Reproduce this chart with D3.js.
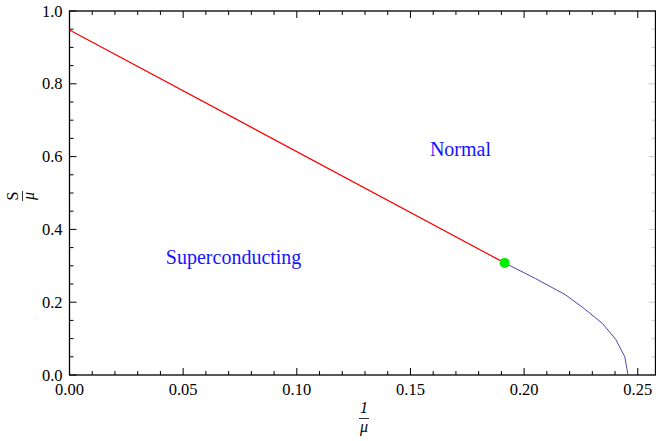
<!DOCTYPE html>
<html>
  <head>
    <style>
      body { margin: 0; background: #fff; }
    </style>
  </head>
  <body>
    <script src="https://d3js.org/d3.v7.min.js"></script>
    <script>
      var width = 656;
      var height = 441;
      var serif = "Liberation Serif";

      // data
      var redLineX = [0.0, 0.1914];
      var redLineY = [0.948, 0.308];
      var blueCurveX = [0.1914, 0.205, 0.2183, 0.2263, 0.2344, 0.2403, 0.2443, 0.2457];
      var blueCurveY = [0.308, 0.265, 0.220, 0.183, 0.142, 0.098, 0.050, 0.0];
      var tripleX = 0.1914;
      var tripleY = 0.308;
      var xTicks = [0.00, 0.05, 0.10, 0.15, 0.20, 0.25];
      var yTicks = [0.0, 0.2, 0.4, 0.6, 0.8, 1.0];
      var regionLabels = ["Normal", "Superconducting"];
      var regionX = [0.172, 0.0722];
      var regionY = [0.602, 0.305];

      var margin = { left: 69.5, right: 0.5, top: 11, bottom: 66 };

      var svg = d3.select("body")
        .append("svg")
        .attr("width", width)
        .attr("height", height);

      var x = d3.scaleLinear()
        .domain([0, 0.2578])
        .range([margin.left, width - margin.right]);

      var y = d3.scaleLinear()
        .domain([0, 1])
        .range([height - margin.bottom, margin.top]);

      var x0 = x.range()[0], x1 = x.range()[1];
      var y0 = y.range()[0], y1 = y.range()[1];

      // minor ticks
      var xMinor = d3.range(0, 0.2578, 0.01);
      var yMinor = d3.range(0, 1.0001, 0.05);

      var ticks = svg.append("g")
        .attr("stroke", "black")
        .attr("stroke-width", 1);

      xMinor.forEach(function(v) {
        var major = Math.abs(v / 0.05 - Math.round(v / 0.05)) < 1e-6;
        var len = major ? 7 : 4;
        ticks.append("line")
          .attr("x1", x(v)).attr("x2", x(v))
          .attr("y1", y0).attr("y2", y0 - len);
        ticks.append("line")
          .attr("x1", x(v)).attr("x2", x(v))
          .attr("y1", y1).attr("y2", y1 + len);
      });

      yMinor.forEach(function(v) {
        var major = Math.abs(v / 0.2 - Math.round(v / 0.2)) < 1e-6;
        var len = major ? 7 : 4;
        ticks.append("line")
          .attr("x1", x0).attr("x2", x0 + len)
          .attr("y1", y(v)).attr("y2", y(v));
        ticks.append("line")
          .attr("x1", x1).attr("x2", x1 - len)
          .attr("y1", y(v)).attr("y2", y(v))
          .attr("stroke", "#ccc");
      });

      // frame
      svg.append("rect")
        .attr("x", x0)
        .attr("y", y1)
        .attr("width", x1 - x0)
        .attr("height", y0 - y1)
        .attr("fill", "none")
        .attr("stroke", "black")
        .attr("stroke-width", 1.3);

      // tick labels
      svg.append("g").selectAll("text")
        .data(xTicks)
        .enter().append("text")
        .attr("font-family", serif)
        .attr("font-size", 16.5)
        .attr("x", function(d) { return x(d); })
        .attr("y", y0 + 20)
        .attr("text-anchor", "middle")
        .text(function(d) { return d.toFixed(2); });

      svg.append("g").selectAll("text")
        .data(yTicks)
        .enter().append("text")
        .attr("font-family", serif)
        .attr("font-size", 16.5)
        .attr("x", x0 - 7)
        .attr("y", function(d) { return y(d) + 5.5; })
        .attr("text-anchor", "end")
        .text(function(d) { return d.toFixed(1); });

      // lines
      var line = d3.line()
        .x(function(d) { return x(d[0]); })
        .y(function(d) { return y(d[1]); });

      svg.append("path")
        .datum(blueCurveX.map(function(v, i) { return [v, blueCurveY[i]]; }))
        .attr("d", line)
        .attr("fill", "none")
        .attr("stroke", "#4848b0")
        .attr("stroke-width", 1);

      svg.append("path")
        .datum(redLineX.map(function(v, i) { return [v, redLineY[i]]; }))
        .attr("d", line)
        .attr("fill", "none")
        .attr("stroke", "#ff0000")
        .attr("stroke-width", 1.2);

      svg.append("circle")
        .attr("cx", x(tripleX))
        .attr("cy", y(tripleY))
        .attr("r", 5)
        .attr("fill", "#00ee00");

      // region labels
      svg.append("g").selectAll("text")
        .data(regionLabels)
        .enter().append("text")
        .attr("font-family", serif)
        .attr("font-size", 20)
        .attr("fill", "#1414ff")
        .attr("x", function(d, i) { return x(regionX[i]); })
        .attr("y", function(d, i) { return y(regionY[i]); })
        .attr("text-anchor", "middle")
        .text(function(d) { return d; });

      // x axis title: 1 over mu
      var xt = svg.append("g").attr("transform", "translate(364,0)")
        .attr("font-family", serif).attr("font-size", 16).attr("font-style", "italic");
      xt.append("text")
        .attr("x", 0).attr("y", 413).attr("text-anchor", "middle").text("1");
      xt.append("line").attr("x1", -5).attr("x2", 5).attr("y1", 418.5).attr("y2", 418.5)
        .attr("stroke", "black").attr("stroke-width", 0.8);
      xt.append("text")
        .attr("x", 0).attr("y", 432).attr("text-anchor", "middle").text("μ");

      // y axis title: S over mu, rotated
      var yt = svg.append("g").attr("transform", "translate(22,196) rotate(-90)")
        .attr("font-family", serif).attr("font-size", 16);
      yt.append("text")
        .attr("x", 0).attr("y", -4).attr("text-anchor", "middle").text("S");
      yt.append("line").attr("x1", -5).attr("x2", 5).attr("y1", 0.5).attr("y2", 0.5)
        .attr("stroke", "black").attr("stroke-width", 0.8);
      yt.append("text").attr("font-style", "italic")
        .attr("x", 0).attr("y", 12).attr("text-anchor", "middle").text("μ");
    </script>
  </body>
</html>
